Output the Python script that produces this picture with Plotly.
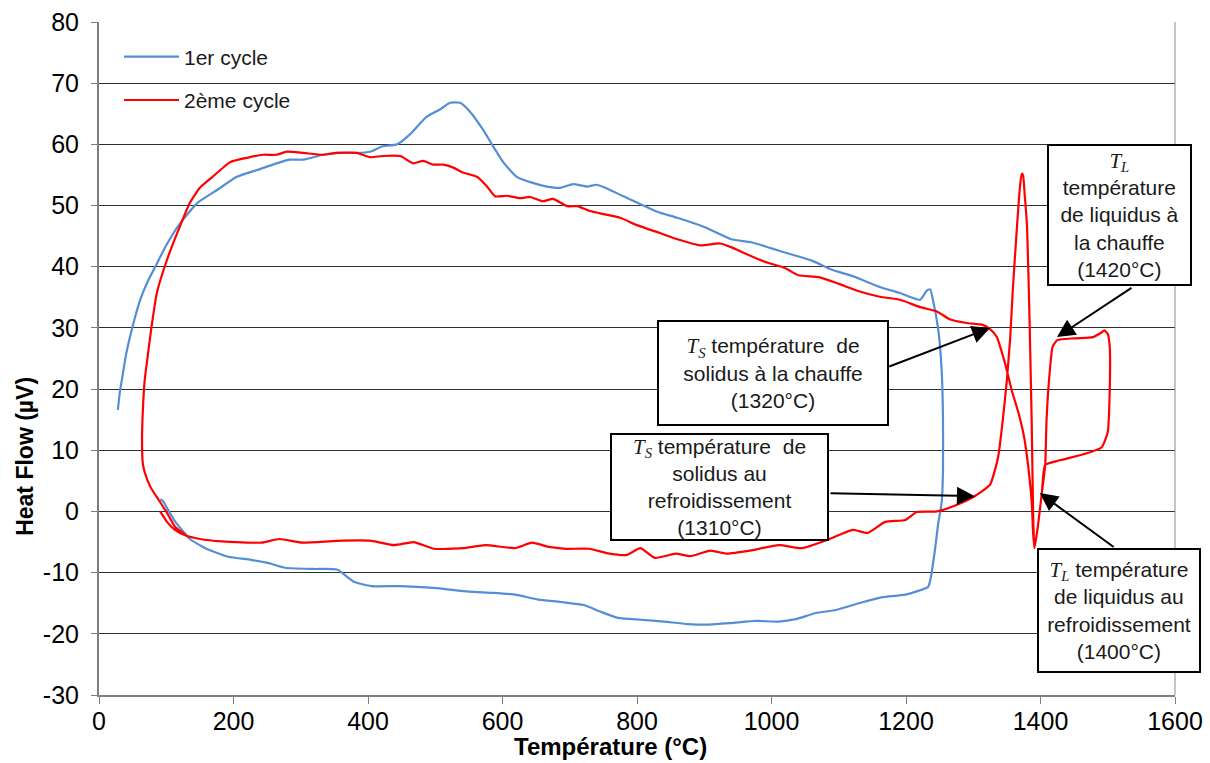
import plotly.graph_objects as go

# 1er cycle (blue) : chauffe puis refroidissement
t1 = [28, 31, 34, 40, 46, 53, 61, 72, 86, 100, 120, 146, 175, 205, 235, 264, 284, 304, 333, 354,
      383, 403, 422, 443, 462, 487, 507, 522, 537, 552, 571, 586, 601, 621, 645, 666, 686, 705, 726, 740,
      755, 780, 800, 830, 860, 900, 940, 970, 1000, 1030, 1060, 1090, 1120, 1161, 1191, 1221, 1231, 1236, 1240, 1248,
      1253, 1255, 1255, 1253, 1248, 1243, 1237, 1233,
      1199, 1165, 1130, 1096, 1066, 1036, 1011, 977, 943, 908, 875, 840, 806, 772, 746, 721, 687, 653,
      619, 584, 550, 498, 448, 405, 379, 354, 320, 277, 251, 226, 192, 158, 135, 128, 114, 104, 95, 91]
hf1 = [16.6, 19.5, 21.5, 25.5, 28.5, 31.5, 34.5, 37.5, 40.5, 43.5, 47, 50.4, 52.5, 54.7, 55.8, 56.9, 57.5, 57.5, 58.3, 58.6,
       58.6, 58.8, 59.7, 60, 61.6, 64.5, 65.7, 66.8, 66.8, 65.3, 62.4, 59.7, 57.1, 54.7, 53.7, 53.1, 52.9, 53.5, 53.1, 53.4,
       52.8, 51.5, 50.5, 49, 48, 46.5, 44.5, 44, 43, 42, 41, 39.5, 38.5, 36.7, 35.7, 34.6, 36.1, 36.3, 34.6, 29.7,
       23.1, 15, 6.8, 1.4, -1.9, -6.3, -10.7, -12.3,
       -13.6, -14, -15, -16.1, -16.6, -17.6, -18, -17.9, -18.2, -18.5, -18.4, -18, -17.7, -17.4, -16.4, -15.3, -14.8, -14.4,
       -13.6, -13.3, -13.1, -12.5, -12.2, -12.2, -11.5, -9.5, -9.4, -9.2, -8.4, -7.9, -7.4, -6, -4.5, -3.6, -1.8, 0, 1.7, 2]

# 2ème cycle (red)
t2 = [128, 113, 101, 88, 76, 68, 65, 64, 65, 68, 72, 76, 86, 101, 120, 135, 150, 169, 195, 220,
      244, 264, 279, 304, 333, 354, 383, 403, 422, 448, 467, 482, 497, 512, 527, 541, 562, 577, 589, 607,
      626, 641, 660, 675, 696, 711, 730, 750, 775, 800, 834, 860, 894, 923, 940, 960, 990, 1020, 1040, 1070,
      1100, 1130, 1161, 1191, 1221, 1246, 1265, 1290, 1314, 1325, 1335, 1347, 1357, 1367, 1375, 1380, 1387, 1389, 1391, 1396,
      1402, 1407, 1409, 1414, 1418, 1425, 1450, 1478, 1490, 1495, 1500, 1503, 1503, 1500, 1491, 1469, 1430, 1407, 1402, 1396,
      1391, 1389, 1387, 1384, 1380, 1376, 1374, 1372, 1369, 1365, 1359, 1355, 1350, 1344, 1337, 1325, 1305, 1301, 1276, 1246, 1216,
      1199, 1169, 1143, 1121, 1084, 1045, 1011, 968, 934, 909, 879, 858, 827, 805, 785, 755, 729, 694, 669, 644,
      618, 575, 541, 498, 468, 439, 405, 354, 302, 268, 242, 183, 150, 128, 113, 101, 91]
hf2 = [-3.8, -2.5, -0.2, 2, 4.1, 6.4, 8, 12, 16, 21.5, 25, 28.5, 35.7, 41.1, 46.5, 50.4, 52.9, 54.7, 57.1, 57.8,
       58.3, 58.3, 58.8, 58.6, 58.3, 58.6, 58.6, 57.9, 58.1, 58.1, 56.9, 57.3, 56.7, 56.7, 56.2, 55.4, 54.7, 53.1, 51.5, 51.6,
       51.2, 51.4, 50.7, 51.1, 49.9, 49.9, 49.1, 48.6, 48, 46.8, 45.5, 44.5, 43.5, 43.8, 43.2, 42.2, 40.8, 39.8, 38.6, 38.3,
       37.2, 36, 35.1, 34.6, 33.4, 32.7, 31.4, 30.8, 30.5, 29.8, 28.5, 24.3, 19.9, 16.2, 12.5, 8.9, 1.4, -3.5, -6, -2.5,
       3, 7.6, 15, 23.2, 26.9, 28, 28.3, 28.5, 29.2, 29.6, 29, 26.8, 20, 13, 10.5, 9.5, 8.4, 7.6, 3, -2.5,
       -6, 0, 14, 30, 46.5, 52.5, 55, 55.2, 52.5, 46.5, 36.6, 28.5, 21.5, 15, 8.9, 4.4, 2.7, 2.4, 1.1, 0, -0.1,
       -1.4, -1.7, -3.5, -3, -4.6, -6, -5.5, -6.4, -6.9, -6.4, -7.3, -6.9, -7.6, -6, -7.1, -6.8, -6.1, -6.1, -5.8, -5.1,
       -6, -5.5, -6, -6.1, -5, -5.5, -4.8, -4.8, -5.1, -4.5, -5.1, -4.9, -4.5, -3.9, -3, -1.7, 0]

series_names = ["1er cycle", "2ème cycle"]
x_ticks = [0, 200, 400, 600, 800, 1000, 1200, 1400, 1600]
y_ticks = [-30, -20, -10, 0, 10, 20, 30, 40, 50, 60, 70, 80]

FONT = "Liberation Sans, Arial, sans-serif"
SERIF = "Liberation Serif"
TXT = "#1a1a1a"

fig = go.Figure()
fig.add_trace(go.Scatter(x=t1, y=hf1, mode="lines", name=series_names[0], legendgroup="c1",
                         line=dict(color="#558ED5", width=2.2, shape="spline", smoothing=0.5)))
fig.add_trace(go.Scatter(x=t2, y=hf2, mode="lines", name=series_names[1], legendgroup="c2",
                         line=dict(color="#FF0000", width=2.2, shape="spline", smoothing=0.5)))


def sym(letter):
    return f"<span style='font-family:{SERIF}'><i>T<sub>{letter}</sub></i></span>"


# boxes: (text, x, y, width, height)
boxes = [
    (sym("L") + "<br>température<br>de liquidus à<br>la chauffe<br>(1420°C)", 1517.5, 48.5, 141, 138),
    (sym("S") + " température  de<br>solidus à la chauffe<br>(1320°C)", 1002, 22.6, 228, 102),
    (sym("S") + " température  de<br>solidus au<br>refroidissement<br>(1310°C)", 923.4, 4.0, 215, 104),
    (sym("L") + " température<br>de liquidus au<br>refroidissement<br>(1400°C)", 1516.7, -16.2, 160, 121),
]
for text, bx, by, w, h in boxes:
    fig.add_annotation(x=bx, y=by, xref="x", yref="y", text=text, showarrow=False,
                       xanchor="center", yanchor="middle",
                       width=w, height=h, align="center", valign="middle",
                       bgcolor="white", bordercolor="#000000", borderwidth=2, borderpad=0,
                       font=dict(family=FONT, size=21, color=TXT))

# arrows: head (x, y) and tail (ax, ay)
arrows = [
    (1424.5, 28.5, 1537.5, 36.7),
    (1325, 30, 1173, 23.6),
    (1302.5, 2.5, 1085.5, 3.0),
    (1399, 3.0, 1511, -6.0),
]
for x, y, ax, ay in arrows:
    fig.add_annotation(x=x, y=y, ax=ax, ay=ay, xref="x", yref="y", axref="x", ayref="y",
                       text="", showarrow=True, arrowhead=2, arrowsize=1.8, arrowwidth=2,
                       arrowcolor="#000000", standoff=0, startstandoff=0)

# axis titles
fig.add_annotation(x=0.475, y=-0.077, xref="paper", yref="paper", text="<b>Température (°C)</b>",
                   xanchor="center", yanchor="middle",
                   showarrow=False, font=dict(family=FONT, size=24, color="#000000"))
fig.add_annotation(x=-0.069, y=0.355, xref="paper", yref="paper", text="<b>Heat Flow (µV)</b>",
                   xanchor="center", yanchor="middle",
                   showarrow=False, textangle=-90, font=dict(family=FONT, size=23, color="#000000"))

fig.add_shape(type="line", xref="paper", yref="paper", x0=1, x1=1, y0=0, y1=1,
              line=dict(color="#8c8c8c", width=1))

fig.update_layout(
    width=1210, height=763,
    margin=dict(l=99, r=35, t=22, b=68, autoexpand=False),
    paper_bgcolor="white", plot_bgcolor="white",
    font=dict(family=FONT, color=TXT),
    legend=dict(x=0.0186, y=0.916, xanchor="left", yanchor="middle", bgcolor="rgba(0,0,0,0)",
                font=dict(size=21, color=TXT), itemwidth=55, traceorder="grouped",
                tracegroupgap=13),
)
fig.update_xaxes(range=[0, 1600], tickvals=x_ticks, ticktext=[str(v) for v in x_ticks],
                 showgrid=False, zeroline=False,
                 showline=True, linecolor="#7f7f7f", linewidth=2,
                 ticks="outside", ticklen=7, tickcolor="#7f7f7f", tickwidth=1,
                 tickfont=dict(size=25, color="#000000"), ticklabelstandoff=-4)
fig.update_yaxes(range=[-30, 80], tickvals=y_ticks, ticktext=[str(v) for v in y_ticks],
                 showgrid=True, gridcolor="#303030", gridwidth=1,
                 zeroline=False, showline=True, linecolor="#7f7f7f", linewidth=2,
                 ticks="outside", ticklen=6, tickcolor="#7f7f7f", tickwidth=1,
                 tickfont=dict(size=25, color="#000000"), ticklabelstandoff=7)

fig.write_html("out.html", config={"displayModeBar": False},
               post_script="document.body.style.margin='0';")
